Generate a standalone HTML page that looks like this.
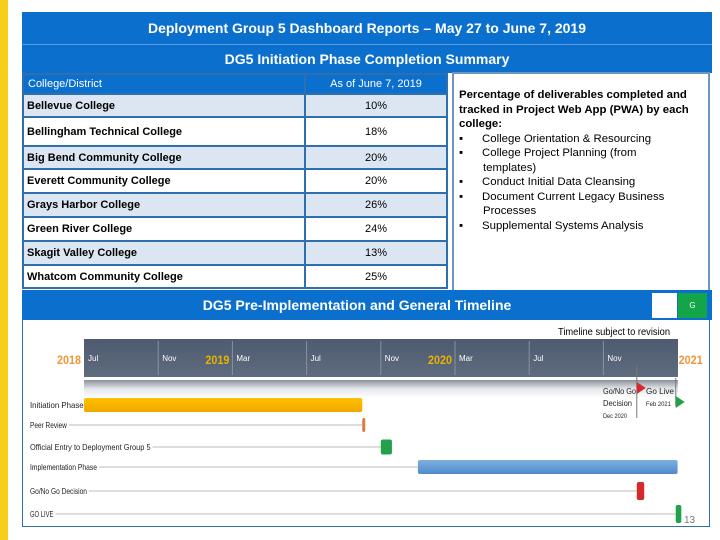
<!DOCTYPE html>
<html><head><meta charset="utf-8"><style>
body{margin:0;width:720px;height:540px;background:#fff;position:relative;overflow:hidden;font-family:"Liberation Sans",sans-serif}
.abs{position:absolute}
.hdr{background:#0b6fce;color:#fff;font-weight:bold;text-align:center;font-size:14px}
table{border-collapse:collapse;position:absolute;left:22px;top:73px;width:426px;border:2px solid #2f6fae}
td{border:2px solid #2f6fae;font-size:11px;padding:0 3px;height:20px}
td.v{text-align:center;font-weight:normal}
td.n{font-weight:bold}
tr.a td{background:#dce6f2}
tr.b td{background:#fff}
th{background:#0b6fce;color:#fff;font-weight:normal;font-size:11px;text-align:left;padding:0 4px;height:18px;border:2px solid #2f6fae}
.bl{padding-left:24px;text-indent:-24px}
</style></head><body>
<div class="abs" style="left:0;top:0;width:8px;height:540px;background:#f5cf1c"></div>
<div class="abs hdr" style="left:22px;top:12px;width:690px;height:32px;line-height:32px">Deployment Group 5 Dashboard Reports – May 27 to June 7, 2019</div>
<div class="abs hdr" style="left:22px;top:44px;width:690px;height:28px;line-height:28px;border-top:1px solid #5a9be0">DG5 Initiation Phase Completion Summary</div>
<table>
<tr><th style="width:272px">College/District</th><th style="text-align:center">As of June 7, 2019</th></tr>
<tr class="a" style="height:23px"><td class="n">Bellevue College</td><td class="v">10%</td></tr>
<tr class="b" style="height:29px"><td class="n">Bellingham Technical College</td><td class="v">18%</td></tr>
<tr class="a" style="height:23px"><td class="n">Big Bend Community College</td><td class="v">20%</td></tr>
<tr class="b" style="height:24px"><td class="n">Everett Community College</td><td class="v">20%</td></tr>
<tr class="a" style="height:24px"><td class="n">Grays Harbor College</td><td class="v">26%</td></tr>
<tr class="b" style="height:24px"><td class="n">Green River College</td><td class="v">24%</td></tr>
<tr class="a" style="height:24px"><td class="n">Skagit Valley College</td><td class="v">13%</td></tr>
<tr class="b" style="height:23px"><td class="n">Whatcom Community College</td><td class="v">25%</td></tr>
</table>
<div class="abs" style="left:452px;top:72px;width:247px;height:210px;border:2px solid #6d95bd;padding:14px 2px 0 5px;font-size:11.4px;line-height:14.5px">
<div style="width:240px"><b>Percentage of deliverables completed and tracked in Project Web App (PWA) by each college:</b>
<div class="bl">▪&nbsp;&nbsp;&nbsp;&nbsp;&nbsp;&nbsp;College Orientation &amp; Resourcing</div>
<div class="bl" style="width:200px">▪&nbsp;&nbsp;&nbsp;&nbsp;&nbsp;&nbsp;College Project Planning (from templates)</div>
<div class="bl">▪&nbsp;&nbsp;&nbsp;&nbsp;&nbsp;&nbsp;Conduct Initial Data Cleansing</div>
<div class="bl">▪&nbsp;&nbsp;&nbsp;&nbsp;&nbsp;&nbsp;Document Current Legacy Business Processes</div>
<div class="bl">▪&nbsp;&nbsp;&nbsp;&nbsp;&nbsp;&nbsp;Supplemental Systems Analysis</div></div>
</div>
<div class="abs hdr" style="left:22px;top:290px;width:690px;height:30px;line-height:30px;text-indent:-20px">DG5 Pre-Implementation and General Timeline</div>
<div class="abs" style="left:652px;top:293px;width:25px;height:25px;background:#fff"></div>
<div class="abs" style="left:678px;top:293px;width:29px;height:25px;background:#12a54a;color:#fff;font-size:8px;text-align:center;line-height:25px">G</div>
<div class="abs" style="left:22px;top:320px;width:686px;height:206px;border:1px solid #2f6fae;border-top:none"></div>
<svg class="abs" style="left:0;top:0" width="720" height="540" id="tl">
<defs>
<linearGradient id="dk" x1="0" y1="0" x2="0" y2="1"><stop offset="0" stop-color="#4e5a6e"/><stop offset="1" stop-color="#5f6b7e"/></linearGradient>
<linearGradient id="gr" x1="0" y1="0" x2="0" y2="1"><stop offset="0" stop-color="#8a909a"/><stop offset="0.5" stop-color="#e6e8ec"/><stop offset="1" stop-color="#fff"/></linearGradient>
<linearGradient id="yl" x1="0" y1="0" x2="0" y2="1"><stop offset="0" stop-color="#ffc000"/><stop offset="1" stop-color="#f0a800"/></linearGradient>
<linearGradient id="bl" x1="0" y1="0" x2="0" y2="1"><stop offset="0" stop-color="#7fb0e0"/><stop offset="1" stop-color="#4e8bcc"/></linearGradient>
</defs>
<text x="670" y="335" font-size="10" text-anchor="end" textLength="112" lengthAdjust="spacingAndGlyphs">Timeline subject to revision</text>
<rect x="84" y="339" width="594" height="38" fill="url(#dk)"/>
<rect x="84" y="380" width="594" height="18" fill="url(#gr)"/>
</svg>
<div class="abs" style="left:684px;top:515px;font-size:10px;color:#777">13</div>
<script>
const monthLabels=["Jul","Nov","Mar","Jul","Nov","Mar","Jul","Nov"];
const monthOffsets=[0,4,8,12,16,20,24,28];
const yearLabels=["2018","2019","2020","2021"];
const yearOffsets=[0,8,20,32];
const taskNames=["Initiation Phase","Peer Review","Official Entry to Deployment Group 5","Implementation Phase","Go/No Go Decision","GO LIVE"];
const taskStart=[0,15,16,18,29.8,31.9];
const taskEnd=[15,15.1,16.6,32,30.2,32.2];
const taskColors=["url(#yl)","#e07a35","#1fa24a","url(#bl)","#d42a2a","#1fa24a"];
const X0=84,PX=18.55;
function xs(m){return X0+m*PX;}
const rowY=[405,425,447,467,491,514];
const rowH=[14,14,15,14,18,18];
const svg=document.getElementById('tl');const NS="http://www.w3.org/2000/svg";
function mk(t,a){const e=document.createElementNS(NS,t);for(const k in a)e.setAttribute(k,a[k]);svg.appendChild(e);return e;}
monthLabels.forEach((l,i)=>{
 const x=xs(monthOffsets[i]);
 if(i>0){const ln=mk('line',{x1:x,y1:341,x2:x,y2:375,stroke:'#8792a3'});
 
 }
 const t=mk('text',{x:x+4,y:361,'font-size':8,fill:'#fff'});t.textContent=l;
 
 
});
yearLabels.forEach((l,i)=>{
 const x=xs(yearOffsets[i]);
 const tx=i==3?x+1:x-3, anc=i==3?'start':'end';
 const t=mk('text',{x:tx,y:364,'font-size':12,'font-weight':'bold',fill:i==0||i==3?'#f0953a':'#e8b400','text-anchor':anc,textLength:24,lengthAdjust:'spacingAndGlyphs'});t.textContent=l;
 
 
});
taskNames.forEach((n,i)=>{
 const y=rowY[i];
 const w=n.length*3.35;
 if(i>0){const ln=mk('line',{x1:30,y1:y,x2:xs(taskStart[i]),y2:y,stroke:'#bbb'});
 
 }
 const bg=mk('rect',{x:30,y:y-6,width:w+2,height:11,fill:'#fff'});
 
 
 const t=mk('text',{x:30,y:y+3,'font-size':8.5,fill:'#222',textLength:w,lengthAdjust:'spacingAndGlyphs'});t.textContent=n;
 
 
 const r=mk('rect',{x:xs(taskStart[i]),y:y-rowH[i]/2,width:Math.max(3,xs(taskEnd[i])-xs(taskStart[i])),height:rowH[i],rx:2,fill:taskColors[i]});
 
 
});
const msX=[xs(taskStart[4]),xs(taskStart[5])];
[[msX[0],'#d42a2a',365,418,382],[msX[1],'#1fa24a',378,406,396]].forEach((m)=>{
 const ln=mk('line',{x1:m[0],y1:m[2],x2:m[0],y2:m[3],stroke:'#777'});
 
 
 const p=mk('polygon',{points:`${m[0]},${m[4]} ${m[0]+9},${m[4]+6} ${m[0]},${m[4]+12}`,fill:m[1]});
 
 
});
[["Go/No Go",603,394,8,33],["Decision",603,406,8,29],["Dec 2020",603,418,6,24],["Go Live",646,394,8,28],["Feb 2021",646,406,6,25]].forEach(a=>{
 const t=mk('text',{x:a[1],y:a[2],'font-size':a[3],fill:'#222',textLength:a[4],lengthAdjust:'spacingAndGlyphs'});t.textContent=a[0];
 
 
});
</script>
</body></html>
